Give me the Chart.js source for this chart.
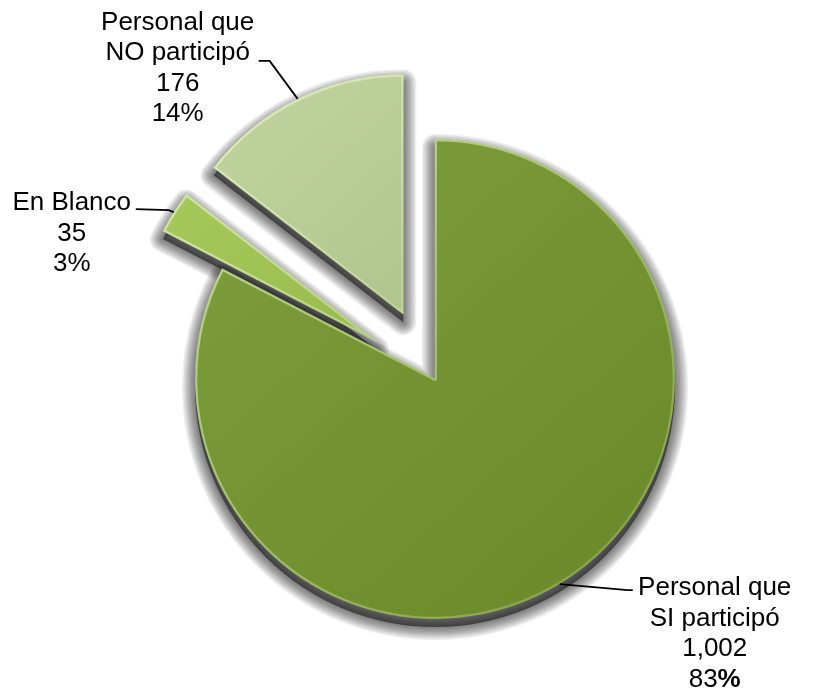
<!DOCTYPE html>
<html>
<head>
<meta charset="utf-8">
<title>Participación del personal</title>
<script src="https://cdn.jsdelivr.net/npm/chart.js@4.4.1/dist/chart.umd.min.js"></script>
<style>
    html, body { margin: 0; padding: 0; background: #ffffff; }
    #wrap { width: 815px; height: 689px; position: relative; }
</style>
</head>
<body>
<div id="wrap"><canvas id="participationChart"></canvas></div>
<script>
// Participación del personal - pie chart with exploded slices

const categories = [
    ['Personal que', 'SI participó'],
    ['En Blanco'],
    ['Personal que', 'NO participó']
];
const personCounts = [1002, 35, 176];
const percentLabels = [83, 3, 14];

// gradient ends (light, dark) for each slice
const sliceColors = [
    ['#80a13e', '#698829'],
    ['#a9cc60', '#83a635'],
    ['#c3d6a0', '#97ad74']
];

const LABEL_FONT = '26px "Liberation Sans", Arial, sans-serif';
const LABEL_FONT_BOLD = 'bold 26px "Liberation Sans", Arial, sans-serif';
const LINE_HEIGHT = 30.5;

function pieGradient(chart, light, dark) {
    const area = chart.chartArea;
    if (!area) return dark;
    const cx = (area.left + area.right) / 2;
    const cy = (area.top + area.bottom) / 2;
    const g = chart.ctx.createLinearGradient(cx - 240, cy - 300, cx + 240, cy + 240);
    g.addColorStop(0, light);
    g.addColorStop(1, dark);
    return g;
}

// push the slices out along their middle angle
const explodePlugin = {
    id: 'explode',
    afterDatasetUpdate(chart, args, opts) {
        const dist = opts.distance || [];
        args.meta.data.forEach((arc, i) => {
            const d = dist[i] || 0;
            const mid = (arc.startAngle + arc.endAngle) / 2;
            arc.x += Math.cos(mid) * d;
            arc.y += Math.sin(mid) * d;
        });
    }
};

// soft drop shadow under the slices, built from stacked translucent strokes
const shadowPlugin = {
    id: 'sliceShadow',
    beforeDatasetsDraw(chart, args, opts) {
        const ctx = chart.ctx;
        ctx.save();
        ctx.lineJoin = 'round';
        chart.getDatasetMeta(0).data.forEach(arc => {
            const sx = arc.x + opts.dx;
            const sy = arc.y + opts.dy;
            ctx.beginPath();
            ctx.moveTo(sx, sy);
            ctx.arc(sx, sy, arc.outerRadius, arc.startAngle, arc.endAngle);
            ctx.closePath();
            for (let k = opts.steps; k >= 1; k--) {
                ctx.lineWidth = k * opts.stepWidth;
                ctx.strokeStyle = 'rgba(0,0,0,' + opts.stepAlpha + ')';
                ctx.stroke();
            }
            ctx.fillStyle = 'rgba(0,0,0,0.5)';
            ctx.fill();
        });
        ctx.restore();
    }
};

// outside labels with leader lines
const calloutPlugin = {
    id: 'callouts',
    afterDatasetsDraw(chart, args, opts) {
        const ctx = chart.ctx;
        const arcs = chart.getDatasetMeta(0).data;
        arcs.forEach((arc, i) => {
            const lay = opts.layout[i];
            const mid = (arc.startAngle + arc.endAngle) / 2;
            const ex = arc.x + Math.cos(mid) * arc.outerRadius;
            const ey = arc.y + Math.sin(mid) * arc.outerRadius;

            ctx.save();
            ctx.strokeStyle = '#000000';
            ctx.lineWidth = 1.8;
            ctx.beginPath();
            ctx.moveTo(ex, ey);
            ctx.lineTo(ex + lay.knee[0], ey + lay.knee[1]);
            ctx.lineTo(ex + lay.end[0], ey + lay.end[1]);
            ctx.stroke();

            const tx = ex + lay.text[0];
            let ty = ey + lay.text[1];
            ctx.fillStyle = '#000000';
            ctx.textBaseline = 'alphabetic';
            ctx.textAlign = 'center';
            ctx.font = LABEL_FONT;
            const lines = categories[i].concat([personCounts[i].toLocaleString('en-US')]);
            lines.forEach(line => {
                ctx.fillText(line, tx, ty);
                ty += LINE_HEIGHT;
            });

            // percentage line; the first one has a bold % sign
            const num = String(percentLabels[i]);
            ctx.font = LABEL_FONT;
            const wNum = ctx.measureText(num).width;
            ctx.font = lay.boldPct ? LABEL_FONT_BOLD : LABEL_FONT;
            const wPct = ctx.measureText('%').width;
            const x0 = tx - (wNum + wPct) / 2;
            ctx.textAlign = 'left';
            ctx.font = LABEL_FONT;
            ctx.fillText(num, x0, ty);
            ctx.font = lay.boldPct ? LABEL_FONT_BOLD : LABEL_FONT;
            ctx.fillText('%', x0 + wNum, ty);
            ctx.restore();
        });
    }
};

const canvas = document.getElementById('participationChart');

const participationChart = new Chart(canvas, {
    type: 'pie',
    data: {
        labels: categories.map(c => c.join(' ')),
        datasets: [{
            data: personCounts,
            backgroundColor: c => pieGradient(c.chart, sliceColors[c.dataIndex][0], sliceColors[c.dataIndex][1]),
            borderColor: c => pieGradient(c.chart, 'rgba(238,252,208,0.7)', 'rgba(150,185,80,0.5)'),
            borderWidth: 2,
            borderAlign: 'inner'
        }]
    },
    plugins: [explodePlugin, shadowPlugin, calloutPlugin],
    options: {
        responsive: true,
        maintainAspectRatio: false,
        animation: false,
        events: [],
        radius: 240,
        layout: {
            padding: { left: 155, right: 100, top: 170, bottom: 101 }
        },
        plugins: {
            legend: { display: false },
            tooltip: { enabled: false },
            explode: { distance: [0, 70, 72] },
            sliceShadow: { dx: 0, dy: 8, steps: 10, stepWidth: 2.6, stepAlpha: 0.065 },
            callouts: {
                layout: [
                    { knee: [68, 6], end: [73, 6], text: [155, 11], boldPct: true },
                    { knee: [-5, -2], end: [-38, -3], text: [-102, -2], boldPct: false },
                    { knee: [-28, -38], end: [-39, -38], text: [-120, -69], boldPct: false }
                ]
            }
        }
    }
});

setTimeout(() => participationChart.render(), 60);
</script>
</body>
</html>
